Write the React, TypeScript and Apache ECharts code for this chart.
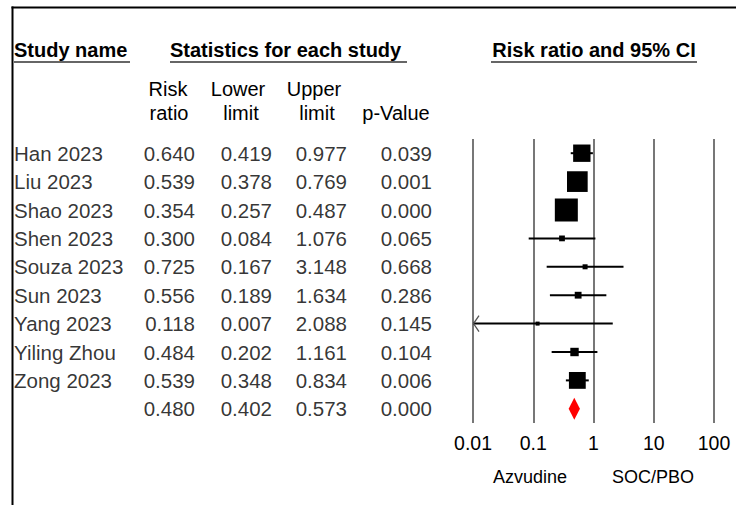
import React, { useEffect, useRef } from "react";
import * as echarts from "echarts";

// ---------- data ----------
const studies = ["Han 2023", "Liu 2023", "Shao 2023", "Shen 2023", "Souza 2023", "Sun 2023", "Yang 2023", "Yiling Zhou", "Zong 2023"];
const riskRatio = [0.640, 0.539, 0.354, 0.300, 0.725, 0.556, 0.118, 0.484, 0.539];
const lowerLimit = [0.419, 0.378, 0.257, 0.084, 0.167, 0.189, 0.007, 0.202, 0.348];
const upperLimit = [0.977, 0.769, 0.487, 1.076, 3.148, 1.634, 2.088, 1.161, 0.834];
const pValues = ["0.039", "0.001", "0.000", "0.065", "0.668", "0.286", "0.145", "0.104", "0.006"];
const summaryRR = 0.480;
const summaryLower = 0.402;
const summaryUpper = 0.573;
const summaryP = "0.000";
const tickValues = [0.01, 0.1, 1, 10, 100];
const tickLabels = ["0.01", "0.1", "1", "10", "100"];
const favoursLeft = "Azvudine";
const favoursRight = "SOC/PBO";

// ---------- layout ----------
const W = 736;
const H = 505;
const TOP = 139;
const PLOT_H = 284;
const PLOT_L = 473;
const PLOT_W = 241;
const FONT = "Arial, 'Liberation Sans', sans-serif";
const ROWS = studies.length + 1;

// inverse-variance weights from the CIs (for box sizes)
const weights = studies.map((_, i) => {
  const se = (Math.log(upperLimit[i]) - Math.log(lowerLimit[i])) / (2 * 1.96);
  return 1 / (se * se);
});
const maxW = Math.max(...weights);

const fmt = (v: number) => v.toFixed(3);

export default function App() {
  const ref = useRef<HTMLDivElement>(null);

  useEffect(() => {
    if (!ref.current) return;
    const chart = echarts.init(ref.current, undefined, { renderer: "svg" });

    const allRR = [...riskRatio, summaryRR];
    const allLo = [...lowerLimit, summaryLower];
    const allHi = [...upperLimit, summaryUpper];
    const allP = [...pValues, summaryP];

    const tableSeries = (x: number, align: string, texts: string[]) => ({
      type: "scatter",
      xAxisIndex: 1,
      yAxisIndex: 1,
      silent: true,
      symbolSize: 1,
      itemStyle: { color: "rgba(0,0,0,0)" },
      data: texts.map((_, i) => [x, i]),
      label: {
        show: true,
        position: "inside",
        align,
        verticalAlign: "middle",
        color: "#000",
        fontSize: 20.5,
        fontFamily: FONT,
        formatter: (p: any) => texts[p.dataIndex],
      },
      emphasis: { disabled: true },
    });

    const headerText = (text: string, x: number, y: number, align: string, bold: boolean, size = 20) => ({
      type: "text",
      x,
      y,
      silent: true,
      style: {
        text,
        fill: "#000",
        fontSize: size,
        fontWeight: bold ? "bold" : "normal",
        fontFamily: FONT,
        align,
        verticalAlign: "middle",
      },
    });

    const hline = (x1: number, x2: number, y: number, color: string, w: number) => ({
      type: "line",
      silent: true,
      shape: { x1, y1: y, x2, y2: y },
      style: { stroke: color, lineWidth: w },
    });

    const option: any = {
      animation: false,
      backgroundColor: "#fff",
      grid: [
        { left: PLOT_L, top: TOP, width: PLOT_W, height: PLOT_H, containLabel: false },
        { left: 0, top: TOP, width: 440, height: PLOT_H, containLabel: false },
      ],
      xAxis: [
        {
          type: "log",
          logBase: 10,
          gridIndex: 0,
          min: 0.01,
          max: 100,
          axisLine: { show: false },
          axisTick: { show: false },
          splitLine: { show: true, showMinLine: true, showMaxLine: true, lineStyle: { color: "#555", width: 1.6 } },
          axisLabel: {
            color: "#000",
            fontSize: 19.5,
            fontFamily: FONT,
            margin: 10,
            formatter: (v: number) => {
              const k = tickValues.findIndex((t) => Math.abs(Math.log10(t) - Math.log10(v)) < 1e-6);
              return k >= 0 ? tickLabels[k] : "";
            },
          },
        },
        { type: "value", gridIndex: 1, min: 0, max: 440, show: false },
      ],
      yAxis: [
        { type: "value", gridIndex: 0, min: -0.5, max: ROWS - 0.5, inverse: true, show: false },
        { type: "value", gridIndex: 1, min: -0.5, max: ROWS - 0.5, inverse: true, show: false },
      ],
      series: [
        {
          type: "custom",
          xAxisIndex: 0,
          yAxisIndex: 0,
          clip: false,
          silent: true,
          encode: { x: [0, 1, 2], y: 3 },
          data: studies.map((_, i) => [riskRatio[i], lowerLimit[i], upperLimit[i], i, weights[i]]),
          renderItem: (params: any, api: any) => {
            const rr = api.value(0);
            const lo = api.value(1);
            const hi = api.value(2);
            const row = api.value(3);
            const w = api.value(4);
            const clipped = lo < 0.01;
            const p0 = api.coord([Math.max(lo, 0.01), row]);
            const p1 = api.coord([Math.min(hi, 100), row]);
            const pc = api.coord([rr, row]);
            const size = Math.max(4, 23 * Math.sqrt(w / maxW));
            const children: any[] = [
              {
                type: "line",
                shape: { x1: p0[0], y1: p0[1], x2: p1[0], y2: p1[1] },
                style: { stroke: "#000", lineWidth: 2 },
              },
            ];
            if (clipped) {
              children.push({
                type: "polyline",
                shape: { points: [[p0[0] + 6, p0[1] - 8], [p0[0] + 0.5, p0[1]], [p0[0] + 6, p0[1] + 8]] },
                style: { stroke: "#555", lineWidth: 1.3, fill: null },
              });
            }
            children.push({
              type: "rect",
              shape: { x: pc[0] - size / 2, y: pc[1] - size / 2, width: size, height: size },
              style: { fill: "#000" },
            });
            return { type: "group", children };
          },
        },
        {
          type: "custom",
          xAxisIndex: 0,
          yAxisIndex: 0,
          clip: false,
          silent: true,
          encode: { x: [0, 1, 2], y: 3 },
          data: [[summaryRR, summaryLower, summaryUpper, studies.length]],
          renderItem: (params: any, api: any) => {
            const row = api.value(3);
            const pl = api.coord([api.value(1), row]);
            const pr = api.coord([api.value(2), row]);
            const pc = api.coord([api.value(0), row]);
            const hh = 11;
            return {
              type: "polygon",
              shape: { points: [[pl[0] - 1, pl[1]], [pc[0], pc[1] - hh], [pr[0] + 1, pr[1]], [pc[0], pc[1] + hh]] },
              style: { fill: "#ff0000" },
            };
          },
        },
        tableSeries(14, "left", studies),
        tableSeries(195, "right", allRR.map(fmt)),
        tableSeries(272, "right", allLo.map(fmt)),
        tableSeries(347, "right", allHi.map(fmt)),
        tableSeries(432, "right", allP),
      ],
      graphic: [
        // frame
        { type: "line", silent: true, shape: { x1: 11.5, y1: 7.5, x2: W, y2: 7.5 }, style: { stroke: "#000", lineWidth: 2 } },
        { type: "line", silent: true, shape: { x1: 12.5, y1: 6.5, x2: 12.5, y2: H }, style: { stroke: "#000", lineWidth: 2 } },
        // section headers
        headerText("Study name", 14, 50, "left", true),
        headerText("Statistics for each study", 170, 50, "left", true),
        headerText("Risk ratio and 95% CI", 594, 50, "center", true),
        hline(14, 130, 62, "#333", 1.6),
        hline(170, 407, 62, "#333", 1.6),
        hline(491, 697, 62, "#333", 1.6),
        // column headers
        headerText("Risk", 168, 89, "center", false),
        headerText("ratio", 169, 113, "center", false),
        headerText("Lower", 238, 89, "center", false),
        headerText("limit", 241, 113, "center", false),
        headerText("Upper", 314, 89, "center", false),
        headerText("limit", 317, 113, "center", false),
        headerText("p-Value", 396, 113, "center", false),
        // favours labels
        headerText(favoursLeft, 530, 477, "center", false, 18),
        headerText(favoursRight, 653, 477, "center", false, 18),
      ],
    };

    chart.setOption(option);
    return () => chart.dispose();
  }, []);

  return (
    <div
      ref={ref}
      style={{ position: "fixed", left: 0, top: 0, width: W, height: H, background: "#fff" }}
    />
  );
}
